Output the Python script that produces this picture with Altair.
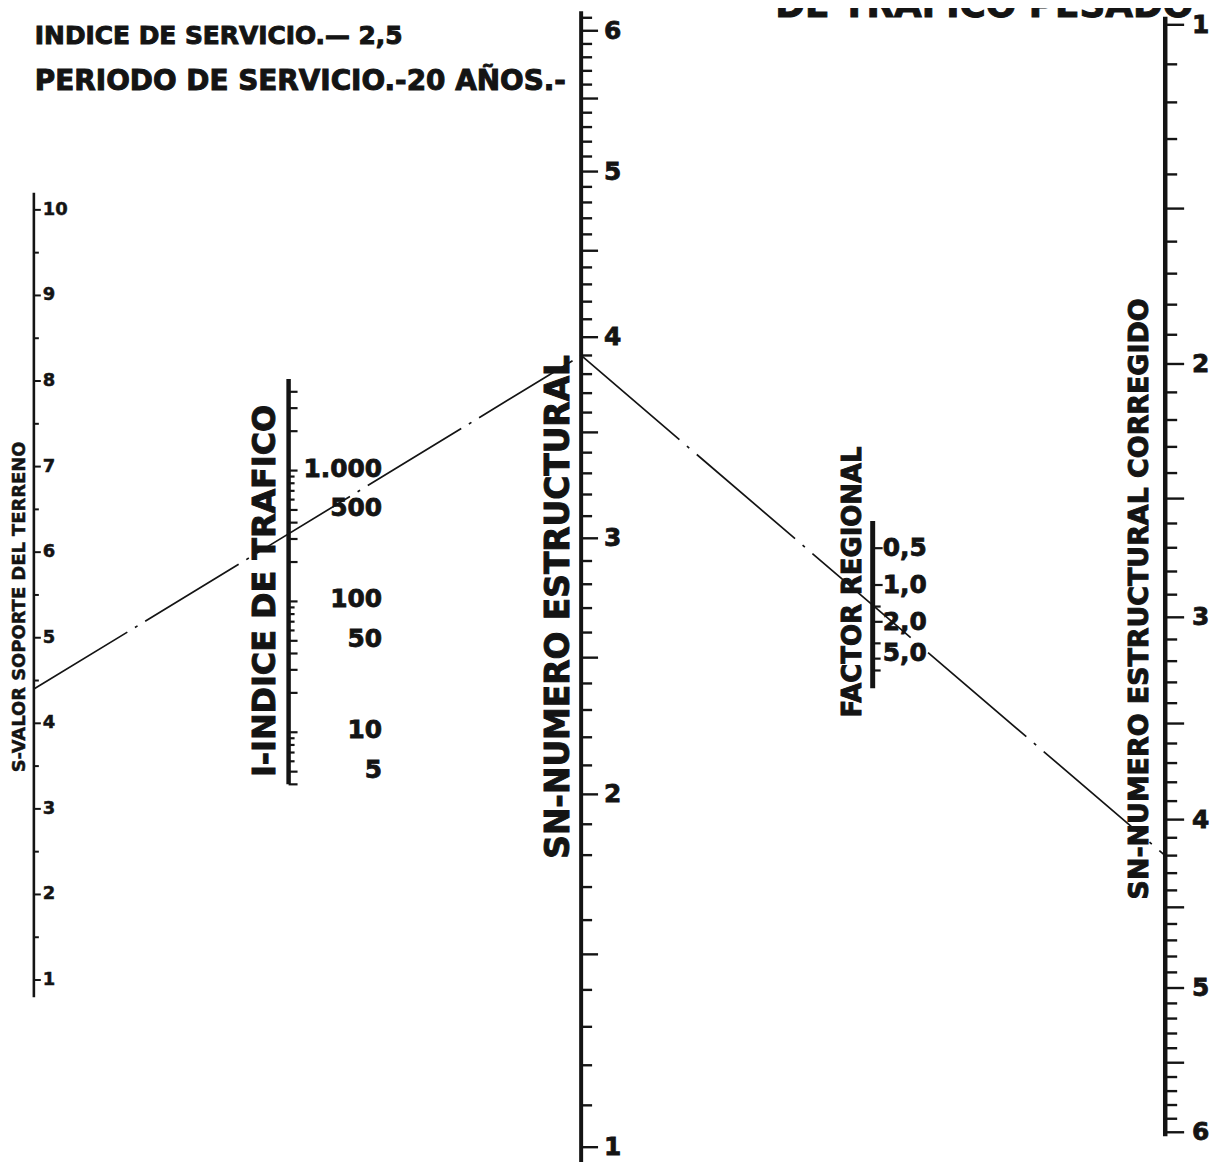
import altair as alt
import pandas as pd

# ------------------------------------------------------------------ data
S_TICKS = [v / 2 for v in range(2, 21)]            # 1.0 .. 10.0 every 0.5
S_LABELS = [1, 2, 3, 4, 5, 6, 7, 8, 9, 10]

I_TICKS = [4, 5, 6, 7, 8, 9,
           10, 20, 30, 40, 50, 60, 70, 80, 90,
           100, 200, 300, 400, 500, 600, 700, 800, 900,
           1000, 2000, 3000, 4000]
I_SHORT = [6, 7, 8, 9, 60, 70, 80, 90, 600, 700, 800, 900]
I_LABEL_VALUES = [5, 10, 50, 100, 500, 1000]
I_LABEL_TEXT = ["5", "10", "50", "100", "500", "1.000"]

SN_TICKS = [v / 10 for v in range(10, 62)]          # 1.0 .. 6.1 every 0.1
SN_LABELS = [1, 2, 3, 4, 5, 6]

R_TICKS = [0.5, 1.0, 1.5, 2.0, 3.0, 4.0, 5.0]
R_LABEL_TEXT = ["0,5", "1,0", "2,0", "5,0"]
R_LABEL_AT = [0.5, 1.0, 2.0, 3.6]

SNC_TICKS = [v / 10 for v in range(10, 61)]         # 1.0 .. 6.0 every 0.1
SNC_LABELS = [1, 2, 3, 4, 5, 6]

# example solution drawn on the nomograph
S_READ = 4.4
SN_READ = 3.9
SNC_READ = 4.2

# ------------------------------------------------------------------ layout
M = 8                      # page margin
W, H = 1209, 1154
INK = "#141414"
FONT = "DejaVu Sans"


def px(v):
    return v - M


XS = alt.Scale(domain=[M, M + W], range=[0, W], nice=False, zero=False)


def build_axis(name, ax, scale, extent, ticks, is_long, len_short, len_long,
               axis_w, tick_w, label_at, label_text, label_dx, font_size,
               label_align="left", label_dy=0, label_stroke=0.8):
    rows = [dict(x0=ax, x1=ax, v=extent[0], v2=extent[1], w=axis_w)]
    for t in ticks:
        ln = len_long if is_long(t) else len_short
        rows.append(dict(x0=ax, x1=ax + ln, v=t, v2=t, w=tick_w))
    rules = alt.Chart(pd.DataFrame(rows)).mark_rule(
        color=INK, strokeCap="butt"
    ).encode(
        x=alt.X("x0:Q", scale=XS, axis=None),
        x2="x1:Q",
        y=alt.Y("v:Q", scale=scale, axis=None),
        y2="v2:Q",
        strokeWidth=alt.StrokeWidth("w:Q", scale=None),
    )
    labels = alt.Chart(pd.DataFrame({"v": label_at, "t": label_text})).mark_text(
        align=label_align, baseline="middle", font=FONT, fontWeight="bold",
        fontSize=font_size, color=INK, stroke=INK, strokeWidth=label_stroke,
        dy=label_dy,
    ).encode(
        x=alt.value(px(ax + label_dx)),
        y=alt.Y("v:Q", scale=scale, axis=None),
        text="t:N",
    )
    return alt.layer(rules, labels).properties(name=name)


S_X, I_X, SN_X, R_X, SNC_X = 34, 290, 584, 877, 1171

s_axis = build_axis(
    "sax", S_X,
    alt.Scale(type="linear", domain=[1, 10], range=[px(982), px(208)], nice=False, zero=False),
    [0.8, 10.2], S_TICKS, lambda t: float(t).is_integer(), 5, 7, 2.6, 2.0,
    S_LABELS, [str(v) for v in S_LABELS], 9, 18, label_stroke=0.5)

i_axis = build_axis(
    "iax", I_X,
    alt.Scale(type="log", domain=[10, 1000], range=[px(733), px(470)], nice=False),
    [4, 5000], I_TICKS, lambda t: t not in I_SHORT, 6, 9, 4.5, 2.2,
    I_LABEL_VALUES, I_LABEL_TEXT, 94, 25, label_align="right", label_dy=-2)

sn_axis = build_axis(
    "snax", SN_X,
    alt.Scale(type="symlog", constant=1.2, domain=[1, 6], range=[px(1150), px(28)], nice=False, zero=False),
    [0.96, 6.15], SN_TICKS, lambda t: round(t * 10) % 5 == 0, 11, 17, 4.0, 2.4,
    SN_LABELS, [str(v) for v in SN_LABELS], 23, 25)

r_axis = build_axis(
    "rax", R_X,
    alt.Scale(type="log", domain=[0.5, 1.0], range=[px(548), px(585)], nice=False),
    [0.3, 7.0], R_TICKS, lambda t: t in (0.5, 1.0, 2.0), 8, 10, 5.0, 2.2,
    R_LABEL_AT, R_LABEL_TEXT, 10, 25)

snc_axis = build_axis(
    "sncax", SNC_X,
    alt.Scale(type="symlog", constant=1.5, domain=[1, 6], range=[px(22), px(1135)], nice=False, zero=False),
    [0.98, 6.03], SNC_TICKS, lambda t: round(t * 10) % 5 == 0, 12, 19, 4.5, 2.4,
    SNC_LABELS, [str(v) for v in SNC_LABELS], 27, 25)


def segment(scale_a, scale_b, va, vb, xa, xb, dash):
    df = pd.DataFrame({"a": [va], "b": [vb]})
    return alt.Chart(df).mark_rule(
        color=INK, strokeWidth=1.7, strokeDash=dash
    ).encode(
        x=alt.value(px(xa)),
        x2=alt.value(px(xb)),
        y=alt.YValue(alt.ExprRef(expr=f"scale('{scale_a}', datum.a)")),
        y2=alt.Y2Value(alt.ExprRef(expr=f"scale('{scale_b}', datum.b)")),
    )


seg1 = segment("sax_y", "snax_y", S_READ, SN_READ, S_X, SN_X, [110, 9, 3, 9])
seg2 = segment("snax_y", "sncax_y", SN_READ, SNC_READ, SN_X, SNC_X, [130, 10, 3, 10])


def label(text, x, y, size, angle=0, align="center", baseline="middle", sw=1.0):
    return alt.Chart(pd.DataFrame({"t": [text]})).mark_text(
        font=FONT, fontWeight="bold", fontSize=size, color=INK,
        stroke=INK, strokeWidth=sw,
        angle=angle, align=align, baseline=baseline,
    ).encode(x=alt.value(px(x)), y=alt.value(px(y)), text="t:N")


texts = [
    label("DE TRAFICO PESADO", 1199, 14, 36, align="right", baseline="alphabetic"),
    label("INDICE DE SERVICIO.— 2,5", 35, 41, 25, align="left", baseline="alphabetic"),
    label("PERIODO DE SERVICIO.-20 AÑOS.-", 35, 88, 28, align="left", baseline="alphabetic"),
    label("S-VALOR SOPORTE DEL TERRENO", 20, 607, 18, angle=270, sw=0.5),
    label("I-INDICE DE TRAFICO", 266, 591, 32, angle=270),
    label("SN-NUMERO ESTRUCTURAL", 562, 607, 33, angle=270),
    label("FACTOR REGIONAL", 857, 582, 26, angle=270),
    label("SN-NUMERO ESTRUCTURAL CORREGIDO", 1146, 599, 27, angle=270),
]

chart = alt.layer(
    s_axis, i_axis, sn_axis, r_axis, snc_axis, seg1, seg2, *texts
).resolve_scale(
    y="independent"
).properties(
    width=W, height=H, padding=0,
    autosize=alt.AutoSizeParams(type="none"),
    background="white",
).configure_view(stroke=None)

chart.save("out.html", embed_options={"renderer": "svg", "actions": False})
